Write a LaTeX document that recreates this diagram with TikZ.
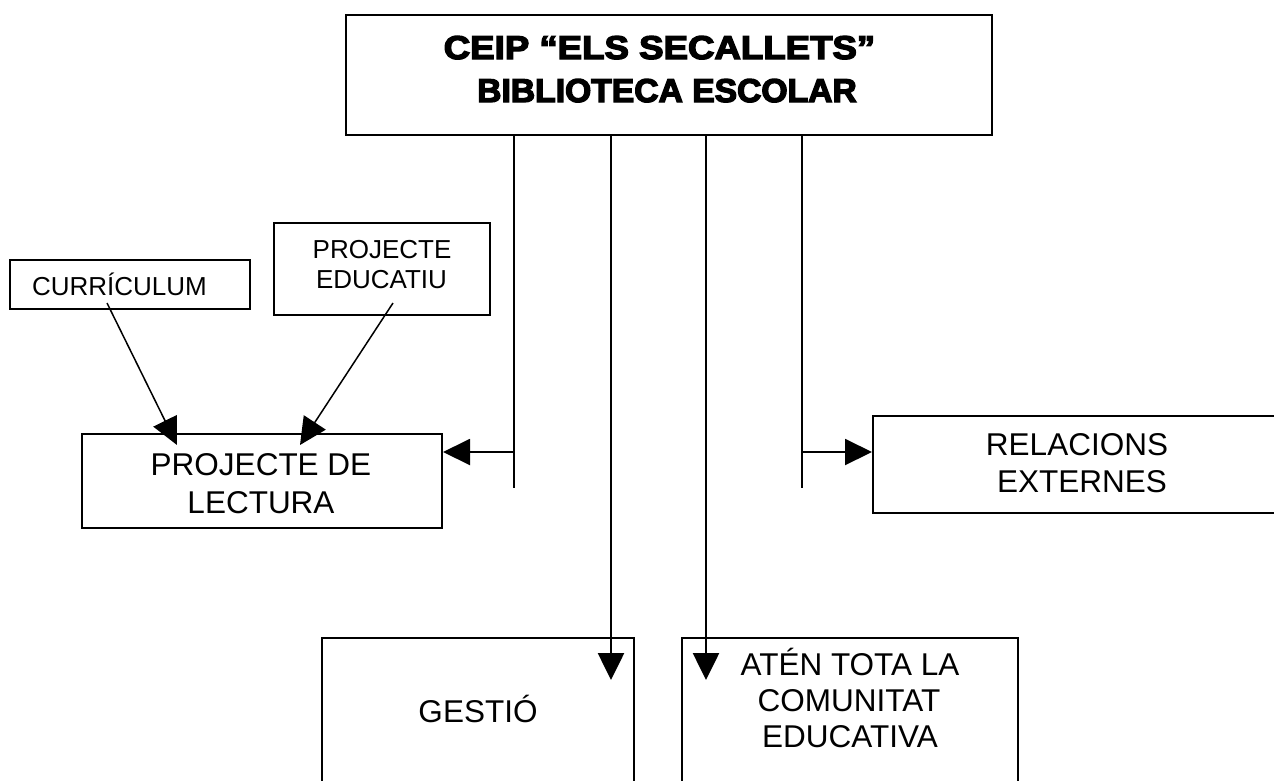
\documentclass[tikz,border=0pt]{standalone}
\usepackage{fontspec}
\setmainfont{Liberation Sans}
\newfontfamily\titlefont{Liberation Sans}[BoldFeatures={FakeBold=4}]
\usetikzlibrary{arrows.meta}
\begin{document}
\begin{tikzpicture}[x=1pt,y=-1pt,
  box/.style={draw,line width=2pt,rectangle,inner sep=0pt},
  conn/.style={line width=2pt},
  arr/.style={line width=2pt,-{Triangle[length=27pt,width=26pt]}},
  small/.style={font=\fontsize{26}{30}\selectfont,anchor=base,inner sep=0pt},
  big/.style={font=\fontsize{31.5}{37}\selectfont,anchor=base,inner sep=0pt},
  ttl/.style={font=\titlefont\bfseries\fontsize{33}{37}\selectfont,anchor=base,inner sep=0pt}]
\useasboundingbox (0,0) rectangle (1274,780);
\clip (0,0) rectangle (1274,780);
% boxes
\node[box,line width=2.5pt,minimum width=646pt,minimum height=120pt] (title) at (669,75) {};
\node[box,minimum width=240pt,minimum height=49pt] (cur) at (129.5,284.5) {};
\node[box,minimum width=216pt,minimum height=92pt] (edu) at (382,269) {};
\node[box,minimum width=360pt,minimum height=94pt] (lect) at (262,481) {};
\node[box,minimum width=420pt,minimum height=97pt] (rel) at (1083,464.5) {};
\node[box,minimum width=312pt,minimum height=152pt] (ges) at (478,714) {};
\node[box,minimum width=336pt,minimum height=152pt] (aten) at (850,714) {};
% texts
\node[ttl] (t1) at (659.5,59) {\scalebox{1.11}[1]{CEIP “ELS SECALLETS”}};
\node[ttl] (t2) at (667,102) {\scalebox{1.02}[1]{BIBLIOTECA ESCOLAR}};
\node[small] (curt) at (119.5,295) {CURRÍCULUM};
\node[small] (edut1) at (382,258) {PROJECTE};
\node[small] (edut2) at (381.5,288) {EDUCATIU};
\node[big] (lectt1) at (261,475) {PROJECTE DE};
\node[big] (lectt2) at (261,513) {LECTURA};
\node[big] (relt1) at (1077,455) {RELACIONS};
\node[big] (relt2) at (1082,492) {EXTERNES};
\node[big] (gest) at (478,722) {GESTIÓ};
\node[big] (atent1) at (850,675) {ATÉN TOTA LA};
\node[big] (atent2) at (849,711) {COMUNITAT};
\node[big] (atent3) at (850,747) {EDUCATIVA};
% connector coordinates
\coordinate (v1top) at (514,135);
\coordinate (v1mid) at (514,452);
\coordinate (v1bot) at (514,488);
\coordinate (v4top) at (802,135);
\coordinate (v4mid) at (802,452);
\coordinate (v4bot) at (802,488);
\coordinate (d1top) at (611,135);
\coordinate (d1tip) at (611,680);
\coordinate (d2top) at (706,135);
\coordinate (d2tip) at (706,680);
\coordinate (c1) at (107,303);
\coordinate (c2) at (177,445);
\coordinate (e1) at (393,303);
\coordinate (e2) at (300,445);
% connectors
\draw[conn] (v1top) -- (v1bot);
\draw[conn] (v4top) -- (v4bot);
\draw[arr] (v1mid) -- (lect.east |- v1mid);
\draw[arr] (v4mid) -- (rel.west |- v4mid);
\draw[arr,line width=2.6pt] (d1top) -- (d1tip);
\draw[arr,line width=2.6pt] (d2top) -- (d2tip);
\draw[arr,line width=1.5pt] (c1) -- (c2);
\draw[arr,line width=1.5pt] (e1) -- (e2);
\end{tikzpicture}
\end{document}
